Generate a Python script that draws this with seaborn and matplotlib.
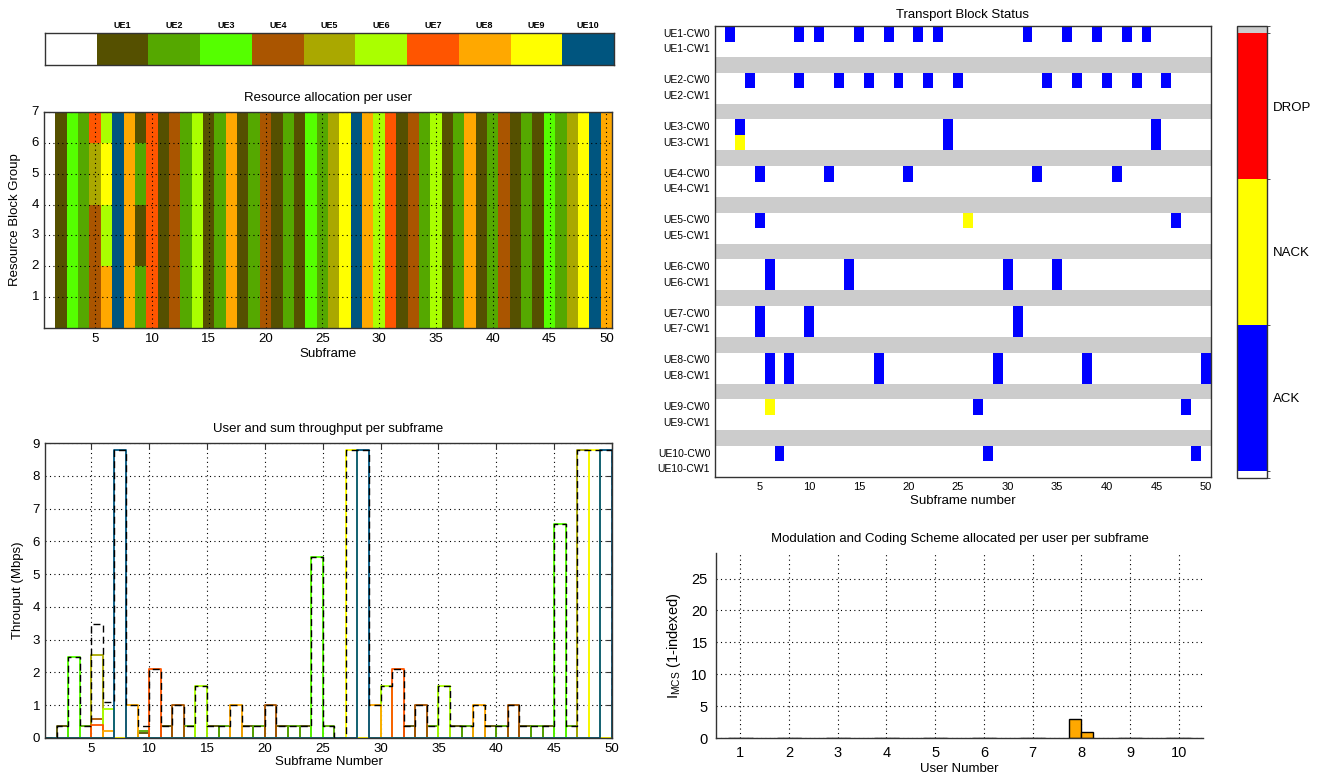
import numpy as np
import pandas as pd
import matplotlib
matplotlib.use("Agg")
import matplotlib.pyplot as plt
import seaborn as sns
from matplotlib.colors import ListedColormap, BoundaryNorm
from matplotlib.colorbar import ColorbarBase

# ---------------- data ----------------
ue_names = ["UE1", "UE2", "UE3", "UE4", "UE5", "UE6", "UE7", "UE8", "UE9", "UE10"]
ue_colors = ["#555000", "#55a800", "#55ff00", "#aa5500", "#aaa800",
             "#aaff00", "#ff5500", "#ffa800", "#ffff00", "#00557f"]
subframes = list(range(1, 51))

# user owning all RBGs in each subframe (0 = nobody)
sched_user = [0, 1, 3, 2, 4, 6, 10, 8, 1, 7,
              1, 4, 2, 6, 1, 2, 8, 1, 2, 4,
              1, 2, 1, 3, 2, 5, 9, 10, 8, 6,
              7, 1, 4, 2, 6, 1, 2, 8, 1, 2,
              4, 1, 2, 1, 3, 2, 5, 9, 10, 8]
# subframes shared between users: user per RBG1..RBG7
mixed_rbg = {5: [4, 4, 4, 4, 5, 5, 7],
             6: [8, 8, 6, 6, 9, 9, 6],
             9: [2, 2, 1, 1, 2, 2, 1]}

# throughput (Mbps) of the scheduled user in each subframe
sched_tput = [0.0, 0.37, 2.48, 0.37, 0.0, 0.0, 8.8, 1.0, 0.0, 2.1,
              0.37, 1.0, 0.37, 1.6, 0.37, 0.37, 1.0, 0.37, 0.37, 1.0,
              0.37, 0.37, 0.37, 5.52, 0.37, 0.0, 8.8, 8.8, 1.0, 1.6,
              2.1, 0.37, 1.0, 0.37, 1.6, 0.37, 0.37, 1.0, 0.37, 0.37,
              1.0, 0.37, 0.37, 0.37, 6.52, 0.37, 8.8, 8.8, 8.8, 1.0]
mixed_tput = {5: {5: 2.52, 4: 0.57, 7: 0.40},
              6: {6: 0.87, 8: 0.22, 9: 0.0},
              9: {1: 0.15, 2: 0.21}}

# transport block status per user (subframes)
ack_cw0 = [[2, 9, 11, 15, 18, 21, 23, 32, 36, 39, 42, 44],
           [4, 9, 13, 16, 19, 22, 25, 34, 37, 40, 43, 46],
           [3, 24, 45], [5, 12, 20, 33, 41], [5, 47], [6, 14, 30, 35],
           [5, 10, 31], [6, 8, 17, 29, 38, 50], [27, 48], [7, 28, 49]]
nack_cw0 = [[], [], [], [], [26], [], [], [], [6], []]
ack_cw1 = [[], [], [24, 45], [], [], [6, 14, 30, 35], [5, 10, 31],
           [6, 8, 17, 29, 38, 50], [], []]
nack_cw1 = [[], [], [3], [], [], [], [], [], [], []]
tb_states = ["ACK", "NACK", "DROP"]

# MCS per user
users = list(range(1, 11))
mcs_cw0 = [0, 0, 0, 0, 0, 0, 0, 3, 0, 0]
mcs_cw1 = [0, 0, 0, 0, 0, 0, 0, 1, 0, 0]

# ---------------- derived tables ----------------
n_sf, n_rbg = len(subframes), 7
rb = np.zeros((n_rbg, n_sf))
for j, sf in enumerate(subframes):
    col = mixed_rbg.get(sf, [sched_user[j]] * n_rbg)
    for r in range(n_rbg):
        rb[n_rbg - 1 - r, j] = col[r]

tput = np.zeros((10, n_sf))
for j, sf in enumerate(subframes):
    if sf in mixed_tput:
        for u, v in mixed_tput[sf].items():
            tput[u - 1, j] = v
    elif sched_user[j] > 0:
        tput[sched_user[j] - 1, j] = sched_tput[j]
tput_sum = tput.sum(axis=0)

n_rows = 10 * 3 - 1
tb = np.zeros((n_rows, n_sf))
for i in range(10):
    if i < 9:
        tb[3 * i + 2, :] = 4
    for lst, row, code in [(ack_cw0, 0, 1), (nack_cw0, 0, 2), (ack_cw1, 1, 1), (nack_cw1, 1, 2)]:
        for sf in lst[i]:
            tb[3 * i + row, sf - 1] = code

# ---------------- style ----------------
sns.set_style("white")
plt.rcParams["font.family"] = ["Liberation Sans", "DejaVu Sans"]
plt.rcParams["mathtext.fontset"] = "custom"
plt.rcParams["mathtext.rm"] = "Liberation Sans"
plt.rcParams["mathtext.it"] = "Liberation Sans"
plt.rcParams["text.color"] = "black"
plt.rcParams["axes.labelcolor"] = "black"
plt.rcParams["xtick.color"] = "#333333"
plt.rcParams["ytick.color"] = "#333333"
plt.rcParams["xtick.labelcolor"] = "black"
plt.rcParams["ytick.labelcolor"] = "black"

W, H = 1322, 783
fig = plt.figure(figsize=(W / 100, H / 100), dpi=100)

def fr(x0, y0, x1, y1):
    return [x0 / W, 1 - y1 / H, (x1 - x0) / W, (y1 - y0) / H]

DOT = (0, (1, 3))
TFS = 9.5

def boxify(ax, lw=1.0, color="#333333"):
    for s in ax.spines.values():
        s.set_visible(True)
        s.set_color(color)
        s.set_linewidth(lw)

ue_cmap = ListedColormap(["white"] + ue_colors)

# ---- legend bar ----
ax_leg = fig.add_axes(fr(45, 33, 614, 65))
sns.heatmap(np.arange(11)[None, :], cmap=ue_cmap, vmin=-0.5, vmax=10.5,
            cbar=False, ax=ax_leg)
boxify(ax_leg)
ax_leg.set_yticks([])
ax_leg.set_xticks(np.arange(1, 11) + 0.5)
ax_leg.set_xticklabels(ue_names, fontsize=6.5, fontweight="bold", rotation=0)
ax_leg.xaxis.tick_top()
ax_leg.tick_params(axis="x", direction="in", top=True, bottom=True,
                   labeltop=True, labelbottom=False, length=5, width=0.8, pad=2)

# ---- resource allocation ----
ax_rb = fig.add_axes(fr(44, 112, 612, 328))
sns.heatmap(rb, cmap=ue_cmap, vmin=-0.5, vmax=10.5, cbar=False, ax=ax_rb)
boxify(ax_rb)
xt = [k - 0.5 for k in range(5, 51, 5)]
ax_rb.set_xticks(xt)
ax_rb.set_xticklabels([str(k) for k in range(5, 51, 5)], rotation=0, fontsize=TFS)
yt = [n_rbg - v for v in range(1, 8)]
ax_rb.set_yticks(yt)
ax_rb.set_yticklabels([str(v) for v in range(1, 8)], rotation=0, fontsize=TFS)
for xv in xt:
    ax_rb.axvline(xv, color="k", ls=DOT, lw=0.8)
for yv in yt:
    ax_rb.axhline(yv, color="k", ls=DOT, lw=0.8)
ax_rb.tick_params(direction="in", top=True, right=True, bottom=True, left=True,
                  length=4, width=0.8)
ax_rb.set_title("Resource allocation per user", fontsize=TFS, pad=8)
ax_rb.set_xlabel("Subframe", fontsize=TFS, labelpad=2)
ax_rb.set_ylabel("Resource Block Group", fontsize=TFS, labelpad=8)

# ---- throughput ----
ax_tp = fig.add_axes(fr(45, 443, 612, 738))
ax_tp.set_axisbelow(True)
ax_tp.grid(True, color="k", ls=DOT, lw=0.8)
for u in range(10):
    sns.lineplot(x=subframes, y=tput[u], color=ue_colors[u], lw=1.3,
                 drawstyle="steps-post", ax=ax_tp, legend=False, errorbar=None)
sns.lineplot(x=subframes, y=tput_sum, color="black", lw=1.0, linestyle=(0, (5, 3)),
             drawstyle="steps-post", ax=ax_tp, legend=False, errorbar=None)
ax_tp.set_xlim(1, 50)
ax_tp.set_ylim(0, 9)
ax_tp.set_xticks(range(5, 51, 5))
ax_tp.set_yticks(range(0, 10))
ax_tp.tick_params(direction="in", top=True, right=True, length=4, width=0.8,
                  labelsize=TFS)
boxify(ax_tp)
ax_tp.set_title("User and sum throughput per subframe", fontsize=TFS, pad=8)
ax_tp.set_xlabel("Subframe Number", fontsize=TFS, labelpad=1)
ax_tp.set_ylabel("Throuput (Mbps)", fontsize=TFS, labelpad=6)

# ---- transport block status ----
tb_cmap = ListedColormap(["white", "#0000ff", "#ffff00", "#ff0000", "#cccccc"])
ax_tb = fig.add_axes(fr(715, 26, 1211, 477))
sns.heatmap(tb, cmap=tb_cmap, vmin=-0.5, vmax=4.5, cbar=False, ax=ax_tb)
boxify(ax_tb)
ax_tb.set_xticks(xt)
ax_tb.set_xticklabels([str(k) for k in range(5, 51, 5)], rotation=0, fontsize=8)
ypos, ylab = [], []
for i in range(10):
    for c in range(2):
        ypos.append(3 * i + c + 0.5)
        ylab.append(f"{ue_names[i]}-CW{c}")
ax_tb.set_yticks(ypos)
ax_tb.set_yticklabels(ylab, rotation=0, fontsize=7.5)
ax_tb.tick_params(direction="in", top=True, right=True, bottom=True, left=True,
                  length=4, width=0.8)
ax_tb.set_title("Transport Block Status", fontsize=TFS, pad=6)
ax_tb.set_xlabel("Subframe number", fontsize=TFS, labelpad=2)

# ---- TB colorbar ----
ax_cb = fig.add_axes(fr(1237, 26, 1267, 478))
bounds = [0, 0.05, 1.05, 2.05, 3.05, 3.1]
cb = ColorbarBase(ax_cb, cmap=tb_cmap, norm=BoundaryNorm(bounds, 5),
                  boundaries=bounds, spacing="proportional",
                  ticks=[0.55, 1.55, 2.55], orientation="vertical")
cb.set_ticklabels(tb_states)
cb.outline.set_edgecolor("#333333")
cb.outline.set_linewidth(1.0)
ax_cb.tick_params(direction="in", left=True, right=True, labelleft=False,
                  labelright=True, length=4, width=0.8, labelsize=TFS, pad=4)

# ---- MCS ----
ax_mcs = fig.add_axes(fr(716, 553, 1203, 738))
ax_mcs.set_axisbelow(True)
ax_mcs.grid(True, color="k", ls=DOT, lw=0.8)
mcs_df = pd.DataFrame({"user": users * 2, "mcs": mcs_cw0 + mcs_cw1,
                       "cw": ["CW0"] * len(users) + ["CW1"] * len(users)})
sns.barplot(data=mcs_df, x="user", y="mcs", hue="cw", native_scale=True,
            width=0.5, palette=[ue_colors[7], ue_colors[7]], saturation=1,
            edgecolor="black", linewidth=1.0, errorbar=None, legend=False,
            ax=ax_mcs)
ax_mcs.set_xlim(0.5, 10.5)
ax_mcs.set_ylim(0, 29)
ax_mcs.set_xticks(users)
ax_mcs.set_yticks(range(0, 30, 5))
for s in ["top", "right"]:
    ax_mcs.spines[s].set_visible(False)
for s in ["left", "bottom"]:
    ax_mcs.spines[s].set_color("#333333")
    ax_mcs.spines[s].set_linewidth(1.0)
ax_mcs.tick_params(direction="in", length=0, labelsize=10.5, pad=6)
ax_mcs.set_title("Modulation and Coding Scheme allocated per user per subframe",
                 fontsize=TFS, pad=8)
ax_mcs.set_xlabel("User Number", fontsize=TFS, labelpad=2)
ax_mcs.set_ylabel(r"I$_{\rm MCS}$ (1-indexed)", fontsize=10.5, labelpad=6)

fig.savefig("out.png", dpi=100)
